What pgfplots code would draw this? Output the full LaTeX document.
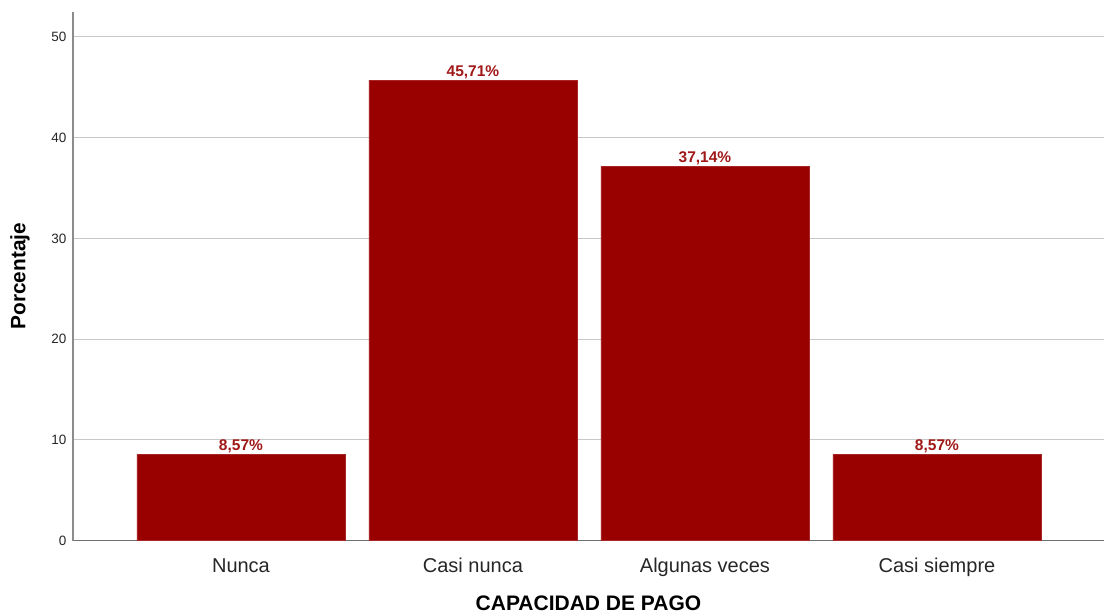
\documentclass[border=0pt]{standalone}
\usepackage{fontspec}
\setmainfont{Liberation Sans}
\usepackage{pgfplots}
\pgfplotsset{compat=1.18}
\definecolor{barred}{HTML}{990000}
\definecolor{lblred}{HTML}{A01818}
\definecolor{gridgray}{HTML}{C8C8C8}
\definecolor{axgray}{HTML}{8C8C8C}
\begin{document}
\begin{tikzpicture}
\begin{axis}[
  scale only axis, width=1031pt, height=529pt,
  xmin=-0.724, xmax=3.72, ymin=0, ymax=52.5,
  axis x line*=bottom, axis y line*=left,
  x axis line style={draw=axgray!80!black, line width=1.2pt},
  y axis line style={draw=axgray, line width=1.4pt},
  xtick={0,1,2,3},
  xticklabels={Nunca,Casi nunca,Algunas veces,Casi siempre},
  ytick={0,10,20,30,40,50},
  major tick length=0pt,
  ymajorgrids,
  grid style={draw=gridgray, line width=1pt},
  xticklabel style={font=\fontsize{20}{22}\selectfont, anchor=base, yshift=-32pt, text=black!85},
  yticklabel style={font=\fontsize{13.5}{15}\selectfont, anchor=east, xshift=-3pt, text=black!85},
  /pgf/number format/assume math mode=true,
  xlabel={\bfseries CAPACIDAD DE PAGO},
  ylabel={\bfseries Porcentaje},
  xlabel style={font=\fontsize{21}{23}\selectfont, at={(axis description cs:0.5,-0.119)}, anchor=center},
  ylabel style={font=\fontsize{20.8}{23}\selectfont, at={(axis description cs:-0.0514,0.5)}, anchor=center},
  clip=false,
]
\coordinate (sw) at (rel axis cs:0,0);
\coordinate (ne) at (rel axis cs:1,1);
\addplot[ybar, bar width=0.897, fill=barred, draw=barred!85!white, line width=0.6pt,
  nodes near coords={\pgfplotspointmeta\%},
  point meta=explicit symbolic,
  nodes near coords style={font=\fontsize{15.5}{17}\selectfont\bfseries, text=lblred, anchor=base, yshift=4pt}]
  table[x=x, y=y, meta=lab] {
x y lab
0 8.57 8,57
1 45.71 45,71
2 37.14 37,14
3 8.57 8,57
};
\end{axis}
\pgfresetboundingbox
\path ([shift={(-73pt,-73pt)}]sw) rectangle ([shift={(0pt,11.7pt)}]ne);
\end{tikzpicture}
\end{document}
